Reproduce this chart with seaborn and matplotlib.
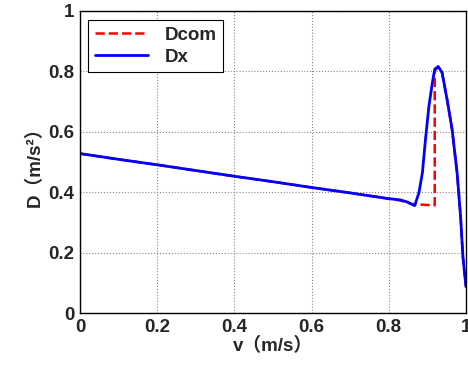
import pandas as pd
import seaborn as sns
from matplotlib import pyplot as plt

# values
v_dx = [0.0, 0.1, 0.2, 0.3, 0.4, 0.5, 0.6, 0.7, 0.8, 0.83, 0.85, 0.867, 0.878, 0.887,
        0.895, 0.904, 0.913, 0.919, 0.928, 0.938, 0.951, 0.964, 0.977, 0.986, 0.992, 1.0]
d_dx = [0.527, 0.508, 0.490, 0.471, 0.452, 0.434, 0.415, 0.397, 0.378, 0.374, 0.366, 0.355, 0.397, 0.463,
        0.573, 0.684, 0.762, 0.806, 0.815, 0.795, 0.706, 0.607, 0.463, 0.319, 0.186, 0.087]

v_com = [0.0, 0.1, 0.2, 0.3, 0.4, 0.5, 0.6, 0.7, 0.8, 0.83, 0.86, 0.919, 0.919,
         0.928, 0.938, 0.951, 0.964, 0.977, 0.986, 0.992, 1.0]
d_com = [0.527, 0.508, 0.490, 0.471, 0.452, 0.434, 0.415, 0.397, 0.378, 0.372, 0.360, 0.356, 0.800,
         0.813, 0.795, 0.706, 0.607, 0.463, 0.319, 0.186, 0.087]

df_com = pd.DataFrame({'v': v_com, 'D': d_com})
df_dx = pd.DataFrame({'v': v_dx, 'D': d_dx})

sns.set_style('white')
plt.rcParams['font.family'] = ['Liberation Sans', 'Noto Sans CJK SC']
plt.rcParams['font.weight'] = 'bold'

fig = plt.figure(figsize=(4.68, 3.7), dpi=100)
ax = fig.add_axes([0.1709, 0.154, 0.8248, 0.8176])

sns.lineplot(data=df_com, x='v', y='D', sort=False, estimator=None, color='red',
             linestyle='--', linewidth=1.8, label='Dcom', ax=ax)
sns.lineplot(data=df_dx, x='v', y='D', sort=False, estimator=None, color='blue',
             linewidth=2.0, label='Dx', ax=ax)

ax.set_xlim(0, 1)
ax.set_ylim(0, 1)
ax.set_xticks([0, 0.2, 0.4, 0.6, 0.8, 1])
ax.set_yticks([0, 0.2, 0.4, 0.6, 0.8, 1])
ax.set_xticklabels(['0', '0.2', '0.4', '0.6', '0.8', '1'])
ax.set_yticklabels(['0', '0.2', '0.4', '0.6', '0.8', '1'])
ax.tick_params(labelsize=13.5, direction='in', length=0, pad=4)
for lab in ax.get_xticklabels() + ax.get_yticklabels():
    lab.set_fontweight('bold')
ax.grid(True, color='#888888', linestyle=':', linewidth=0.8)
for s in ax.spines.values():
    s.set_color('black')
    s.set_linewidth(1.0)

ax.set_xlabel('v（m/s）', fontsize=13.5, fontweight='bold', labelpad=1)
ax.set_ylabel('D（m/s²）', fontsize=13.5, fontweight='bold', labelpad=3)

leg = ax.legend(loc='upper left', bbox_to_anchor=(0.022, 0.968), fancybox=False,
                framealpha=1, edgecolor='black', borderpad=0.35, handlelength=2.8,
                labelspacing=0.25, handletextpad=0.9, borderaxespad=0,
                prop={'weight': 'bold', 'size': 13.5})
leg.get_frame().set_linewidth(0.8)

fig.savefig('out.png', dpi=100)
